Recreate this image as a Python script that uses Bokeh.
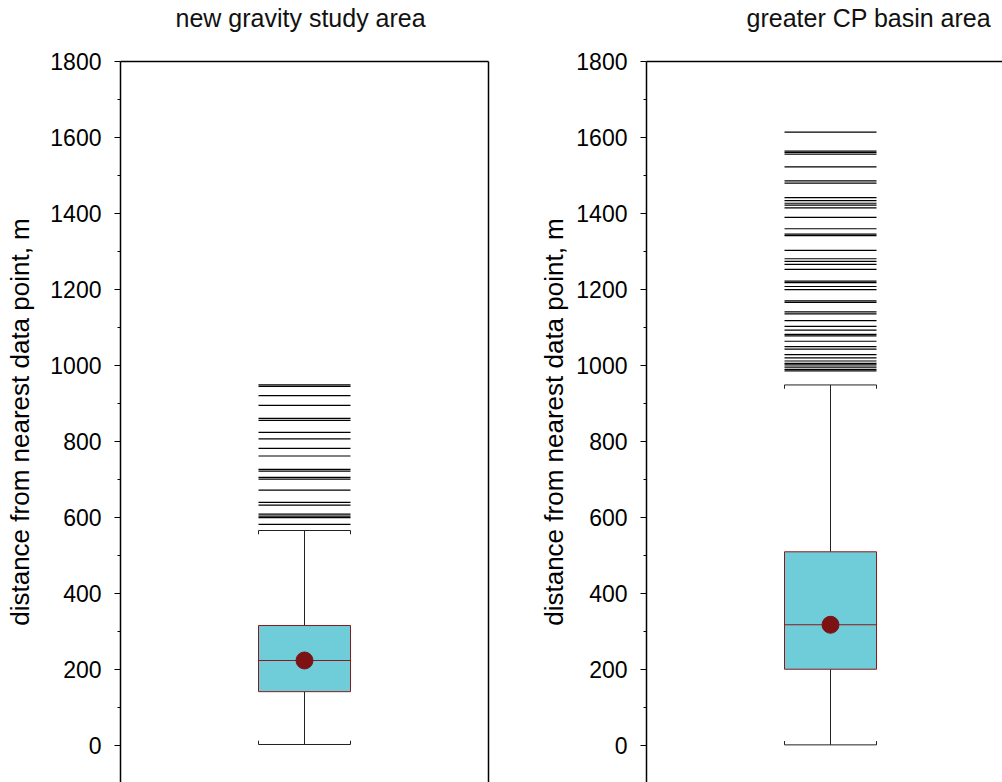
from bokeh.plotting import figure
from bokeh.models import Range1d, LinearAxis, FixedTicker, ColumnDataSource
from bokeh.layouts import row
from bokeh.embed import file_html
from bokeh.resources import INLINE

# ---- data ----
panel_titles = ["new gravity study area", "greater CP basin area"]
q1 = [142, 201]
median = [224, 318]
q3 = [316, 510]
mean = [224, 318]
lower_whisker = [3, 2]
upper_whisker = [566, 949]

outliers_new = [949, 945, 921, 895, 861, 856, 824, 807, 782, 762, 727, 722,
                706, 701, 672, 640, 633, 609, 604, 600, 582]
outliers_cp = [1614, 1564, 1560, 1556, 1523, 1486, 1480, 1442, 1434, 1427,
               1422, 1415, 1390, 1360, 1346, 1342, 1303, 1281, 1274, 1266,
               1253, 1222, 1218, 1208, 1200, 1170, 1166, 1141, 1136, 1118,
               1103, 1093, 1082, 1078, 1064, 1050, 1043, 1029, 1020, 1012,
               1006, 1002, 996, 990, 986]
outliers = [outliers_new, outliers_cp]

y_ticks = [0, 200, 400, 600, 800, 1000, 1200, 1400, 1600, 1800]
y_minor = [100, 300, 500, 700, 900, 1100, 1300, 1500, 1700]
y_label = "distance from nearest data point, m"

FONT = "Liberation Sans"
BOX_FILL = "#6fccd9"
RED = "#8b1a1a"
DOT = "#7d1215"
SHIFT = 34  # figure pulled up so the title sits high above the frame


def make_panel(i, width, border_right, x_end, title_offset, label_standoff):
    p = figure(width=width, height=782 + SHIFT, output_backend="svg", toolbar_location=None,
               x_range=Range1d(0, x_end), y_range=Range1d(-97, 1800),
               x_axis_location=None, min_border_left=120, min_border_right=border_right,
               min_border_top=61 + SHIFT, min_border_bottom=0, title=panel_titles[i],
               margin=(-SHIFT, 0, 0, 0))
    p.grid.visible = False
    p.outline_line_color = None
    p.background_fill_color = "white"
    p.border_fill_color = "white"

    p.title.text_font = FONT
    p.title.text_font_size = "25px"
    p.title.text_font_style = "normal"
    p.title.text_color = "#111111"
    p.title.align = "left"
    p.title.offset = title_offset
    p.title.standoff = 60

    ax = p.yaxis[0]
    ax.ticker = FixedTicker(ticks=y_ticks, minor_ticks=y_minor)
    ax.major_tick_out = 6
    ax.major_tick_in = 0
    ax.minor_tick_out = 3
    ax.minor_tick_in = 0
    ax.axis_line_width = 1.5
    ax.axis_line_color = "black"
    ax.major_tick_line_color = "black"
    ax.minor_tick_line_color = "black"
    ax.major_label_standoff = 13
    ax.major_label_text_font = FONT
    ax.major_label_text_font_size = "23px"
    ax.major_label_text_color = "black"
    ax.axis_label = y_label
    ax.axis_label_text_font = FONT
    ax.axis_label_text_font_size = "26px"
    ax.axis_label_text_font_style = "normal"
    ax.axis_label_text_color = "black"
    ax.axis_label_standoff = label_standoff

    top = LinearAxis(ticker=FixedTicker(ticks=[]), axis_line_color="black", axis_line_width=1.5)
    p.add_layout(top, "above")
    if border_right > 0:
        right = LinearAxis(ticker=FixedTicker(ticks=[]),
                           axis_line_color="black", axis_line_width=1.5)
        p.add_layout(right, "right")

    xc = 2.0
    hw = 0.5
    tick_len = 10
    src = ColumnDataSource(dict(x=[xc], q1=[q1[i]], q3=[q3[i]], med=[median[i]],
                                mean=[mean[i]], lo=[lower_whisker[i]], hi=[upper_whisker[i]]))
    # whiskers
    p.segment(x0="x", x1="x", y0="q3", y1="hi", source=src, line_color="#222222", line_width=1)
    p.segment(x0="x", x1="x", y0="lo", y1="q1", source=src, line_color="#222222", line_width=1)
    # caps (brackets)
    p.segment(x0=xc - hw, x1=xc + hw, y0=upper_whisker[i], y1=upper_whisker[i],
              line_color="#222222", line_width=1)
    p.segment(x0=[xc - hw, xc + hw], x1=[xc - hw, xc + hw],
              y0=[upper_whisker[i]] * 2, y1=[upper_whisker[i] - tick_len] * 2,
              line_color="#222222", line_width=1)
    p.segment(x0=xc - hw, x1=xc + hw, y0=lower_whisker[i], y1=lower_whisker[i],
              line_color="#222222", line_width=1)
    p.segment(x0=[xc - hw, xc + hw], x1=[xc - hw, xc + hw],
              y0=[lower_whisker[i]] * 2, y1=[lower_whisker[i] + tick_len] * 2,
              line_color="#222222", line_width=1)
    # box
    p.quad(left=xc - hw, right=xc + hw, bottom="q1", top="q3", source=src,
           fill_color=BOX_FILL, line_color=RED, line_width=1)
    p.segment(x0=xc - hw, x1=xc + hw, y0="med", y1="med", source=src,
              line_color=RED, line_width=1.2)
    # outliers as horizontal lines
    o = outliers[i]
    p.segment(x0=[xc - hw] * len(o), x1=[xc + hw] * len(o), y0=o, y1=o,
              line_color="black", line_width=1.2)
    # mean dot
    p.scatter(x="x", y="mean", source=src, size=17, fill_color=DOT, line_color=DOT)
    return p


p1 = make_panel(0, 526, 38, 4.0, 55, 12)
p2 = make_panel(1, 476, 0, 356 / 92, 100, 4)
layout = row(p1, p2, spacing=0)

open("out.html", "w").write(file_html(layout, INLINE))
